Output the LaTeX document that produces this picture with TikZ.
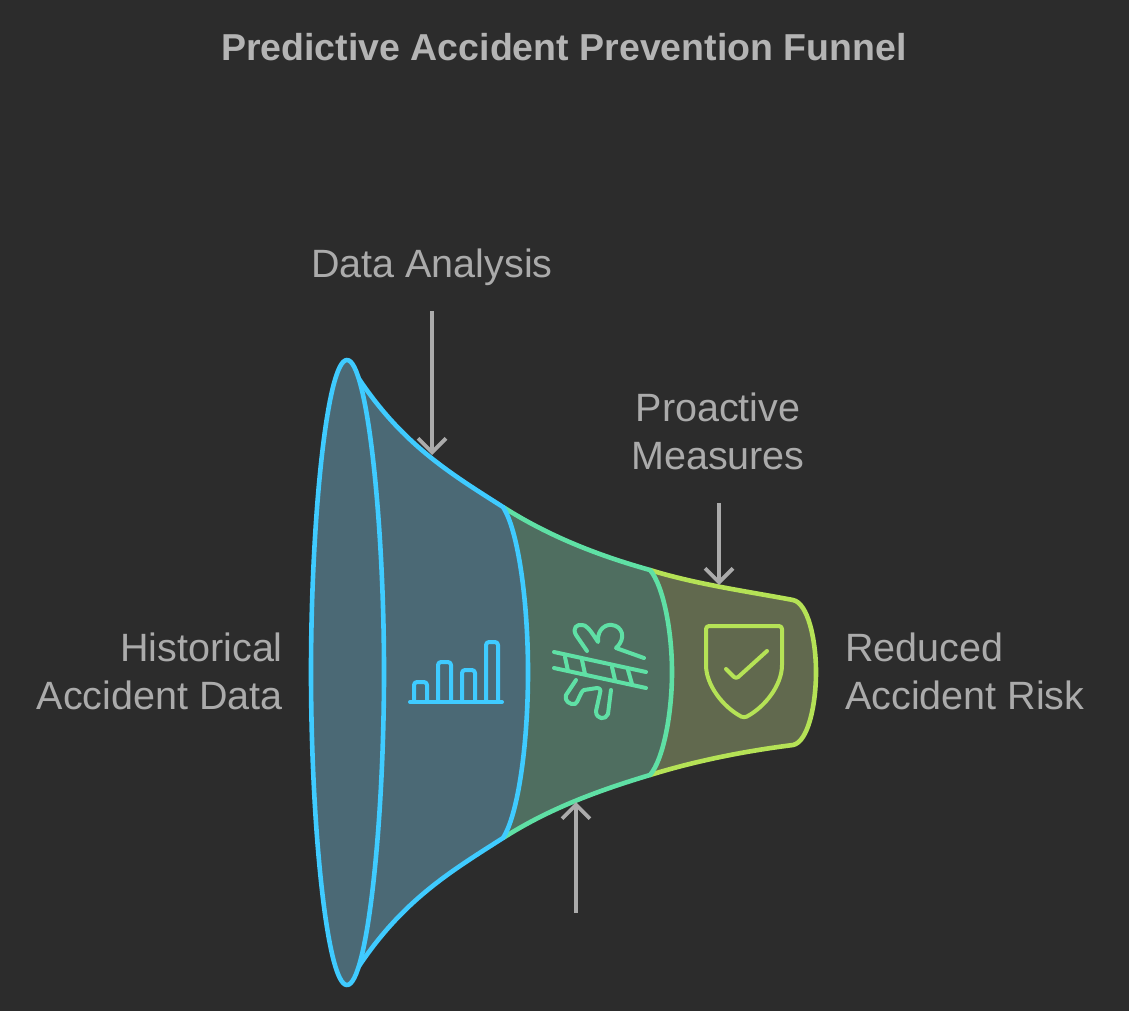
\documentclass[tikz,border=0pt]{standalone}
\usepackage{fontspec}
\setmainfont{Liberation Sans}
\usetikzlibrary{arrows.meta}
\definecolor{bgc}{HTML}{2C2C2C}
\definecolor{blueL}{HTML}{3FCBFF}
\definecolor{greenL}{HTML}{5FE0A5}
\definecolor{limeL}{HTML}{B5E256}
\definecolor{blueF}{HTML}{4B6975}
\definecolor{greenF}{HTML}{4F6E60}
\definecolor{limeF}{HTML}{61694E}
\definecolor{txt}{HTML}{ABABAB}
\definecolor{ttl}{HTML}{B4B4B4}
\tikzset{
  x=1pt,y=-1pt,
  seg/.style={line width=4.6pt,line join=round,line cap=round},
  ico/.style={line width=4pt,line join=round,line cap=round},
  lab/.style={text=txt,font=\fontsize{39.5}{48}\selectfont,inner sep=0pt},
  pointer/.style={draw=txt,line width=3.8pt,-{Straight Barb[length=14pt,width=28pt]}},
}
\begin{document}
\begin{tikzpicture}
\useasboundingbox[fill=bgc] (0,0) rectangle (1129,1011);
% segment 3
\draw[seg,draw=limeL,fill=limeF] (650,570) .. controls (695,584) and (745,591) .. (793,600)
  .. controls (808,603) and (816,640) .. (816,672)
  .. controls (816,705) and (808,742) .. (793,745)
  .. controls (745,751) and (695,761) .. (650,775) -- cycle;
% segment 2
\draw[seg,draw=greenL,fill=greenF] (503,507) .. controls (550,537) and (600,556) .. (650,570)
  .. controls (663,585) and (672,630) .. (672,672)
  .. controls (672,715) and (663,760) .. (650,775)
  .. controls (600,790) and (550,808) .. (503,838) -- cycle;
% segment 1
\draw[seg,draw=blueL,fill=blueF] (347,360)
  .. controls (395,440) and (445,470) .. (503,507)
  .. controls (518,530) and (528,600) .. (528,672)
  .. controls (528,745) and (518,815) .. (503,838)
  .. controls (445,875) and (395,905) .. (347,985) -- cycle;
\draw[seg,draw=blueL,fill=blueF] (347,360)
  .. controls (327,360) and (311,520) .. (311,672)
  .. controls (311,825) and (327,985) .. (347,985)
  .. controls (367,985) and (384,825) .. (384,672)
  .. controls (384,520) and (367,360) .. (347,360) -- cycle;
% chart icon
\draw[ico,draw=blueL] (410,702) -- (502,702);
\draw[ico,draw=blueL,rounded corners=3pt] (414,702) -- (414,682) -- (427,682) -- (427,702);
\draw[ico,draw=blueL,rounded corners=3pt] (438,702) -- (438,662) -- (451,662) -- (451,702);
\draw[ico,draw=blueL,rounded corners=3pt] (462,702) -- (462,670) -- (475,670) -- (475,702);
\draw[ico,draw=blueL,rounded corners=3pt] (486,702) -- (486,642) -- (498,642) -- (498,702);
% accident icon
\begin{scope}[ico]
\draw[greenL] (554,652) -- (646,672);
\draw[greenL] (554,668) -- (646,688);
\draw[greenL] (565,657) -- (568,671);
\draw[greenL] (582,660) -- (585,674);
\draw[greenL] (612,667) -- (615,680);
\draw[greenL] (628,670) -- (632,684);
\draw[greenL] (587,651) -- (576,635) .. controls (572,628) and (577,624) .. (582,625)
  .. controls (586,625) and (589,628) .. (598,642)
  .. controls (597,628) and (607,624) .. (612,625)
  .. controls (622,626) and (627,638) .. (616,648) -- (644,658);
\draw[greenL] (576,680) -- (566,695) .. controls (564,701) and (570,705) .. (575,704)
  .. controls (578,703) and (580,692) .. (584,690) -- (597,688) .. controls (600,688) and (601,690) .. (600,693)
  -- (596,711) .. controls (596,720) and (606,720) .. (608,714) -- (611,690);
\end{scope}
% shield icon
\draw[ico,draw=limeL,rounded corners=3pt] (706,626) -- (782,626) -- (782,662)
  .. controls (782,685) and (765,707) .. (744,718)
  .. controls (723,707) and (706,685) .. (706,662) -- cycle;
\draw[ico,draw=limeL,rounded corners=3pt] (726,669) -- (736,679) -- (767,651);
% pointers
\coordinate (a1) at (432,311); \coordinate (a2) at (432,455);
\coordinate (b1) at (719,503); \coordinate (b2) at (719,585);
\coordinate (c1) at (576,913); \coordinate (c2) at (576,802);
\draw[pointer] (a1) -- (a2);
\draw[pointer] (b1) -- (b2);
\draw[pointer] (c1) -- (c2);
% labels
\node[text=ttl,font=\fontsize{37.5}{44}\bfseries,inner sep=0pt,anchor=base] (title) at (564,61) {Predictive Accident Prevention Funnel};
\node[lab,anchor=base] (da) at (432,277) {Data Analysis};
\node[lab,anchor=base,align=center] (pm) at (718,469) {Proactive\\Measures};
\node[lab,anchor=base east,align=right] (hd) at (283,709) {Historical\\Accident Data};
\node[lab,anchor=base west,align=left] (rr) at (845,709) {Reduced\\Accident Risk};
\end{tikzpicture}
\end{document}
